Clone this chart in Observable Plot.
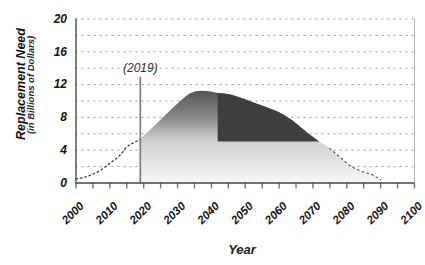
<!DOCTYPE html>
<html>
<head>
<meta charset="utf-8">
<script src="https://cdn.jsdelivr.net/npm/d3@7"></script>
<script src="https://cdn.jsdelivr.net/npm/@observablehq/plot@0.6"></script>
<style>
  html, body { margin: 0; padding: 0; background: #fff; }
  svg { display: block; }
</style>
</head>
<body>
<div id="chart"></div>
<script>
// ---- data ----
const years  = [2000, 2004, 2007, 2010, 2013, 2015, 2017, 2019, 2024, 2028, 2032, 2034, 2037, 2040, 2042, 2046, 2049, 2052, 2056, 2060, 2064, 2067, 2070, 2072, 2075, 2078, 2081, 2084, 2088, 2090];
const values = [0.5, 0.9, 1.5, 2.4, 3.4, 4.4, 4.9, 5.3, 7.2, 8.8, 10.3, 10.9, 11.2, 11.1, 10.9, 10.7, 10.3, 9.85, 9.25, 8.6, 7.6, 6.6, 5.6, 5.0, 4.2, 3.15, 2.1, 1.5, 0.9, 0.4];
const markerYear = 2019;
const markerLabel = "(2019)";
const darkStart = 2042;
const darkEnd = 2072;
const darkFloor = 5;
const yTicks = [0, 4, 8, 12, 16, 20];
const gridValues = [2, 4, 6, 8, 10, 12, 14, 16, 18, 20];
const xLabelYears = [2000, 2010, 2020, 2030, 2040, 2050, 2060, 2070, 2080, 2090, 2100];
const xTickYears = d3.range(2000, 2101, 5);
const yTitle = "Replacement Need";
const ySubTitle = "(in Billions of Dollars)";
const xTitle = "Year";

const data = years.map((y, i) => ({year: y, value: values[i]}));
const past = data.filter(d => d.year <= markerYear);
const future = data.filter(d => d.year >= markerYear);
const dark = data.filter(d => d.year >= darkStart && d.year <= darkEnd);
const tail = data.filter(d => d.year >= 2075);

const font = "'Liberation Sans', Arial, sans-serif";

const chart = Plot.plot({
  width: 425,
  height: 265,
  marginLeft: 75.5,
  marginRight: 11,
  marginTop: 18.5,
  marginBottom: 82.5,
  style: {fontFamily: font, background: "#fff", overflow: "visible"},
  x: {type: "linear", domain: [2000, 2100], axis: null},
  y: {type: "linear", domain: [0, 20], axis: null},
  marks: [
    Plot.ruleY(gridValues, {stroke: "#8a8a8a", strokeWidth: 0.9, strokeDasharray: "2,4"}),
    Plot.ruleX([2100], {y1: 0, y2: 20, stroke: "#b5b5b5", strokeWidth: 1}),
    Plot.areaY(future, {x: "year", y: "value", fill: "url(#needGrad)", curve: "monotone-x"}),
    Plot.areaY(dark, {x: "year", y1: darkFloor, y2: "value", fill: "#3e3e3e", curve: "monotone-x"}),
    Plot.line(past, {x: "year", y: "value", stroke: "#333", strokeWidth: 1.3, strokeDasharray: "1.5,3", curve: "monotone-x"}),
    Plot.line(tail, {x: "year", y: "value", stroke: "#444", strokeWidth: 1.1, strokeDasharray: "1.5,3.5", curve: "monotone-x"}),
    Plot.ruleX([markerYear], {y1: 0, y2: 12.9, stroke: "#777", strokeWidth: 1.6}),
    Plot.text([markerLabel], {x: markerYear, y: 14, text: d => d, fontSize: 12, fontStyle: "italic", fill: "#333", textAnchor: "middle"}),
    // axes
    Plot.ruleX([2000], {y1: 0, y2: 20, stroke: "#555", strokeWidth: 1.5}),
    Plot.ruleX(xTickYears, {x: d => d, y1: 0, y2: 0, insetBottom: -6, stroke: "#777", strokeWidth: 1.4}),
    Plot.ruleY([0], {x1: 2000, x2: 2100, stroke: "#444", strokeWidth: 1.6}),
    Plot.text(yTicks, {x: 2000, y: d => d, text: d => String(d), dx: -9, textAnchor: "end", fontSize: 12, fontWeight: "bold", fontStyle: "italic", fill: "#111"}),
    Plot.text(xLabelYears, {x: d => d, y: 0, text: d => String(d), dx: 6, dy: 21, rotate: -45, textAnchor: "end", fontSize: 11.5, fontWeight: "bold", fontStyle: "italic", fill: "#111"})
  ]
});

const svg = d3.select(chart);
const defs = svg.insert("defs", ":first-child");
const g = defs.append("linearGradient").attr("id", "needGrad").attr("x1", 0).attr("y1", 0).attr("x2", 0).attr("y2", 1);
g.append("stop").attr("offset", "0%").attr("stop-color", "#555");
g.append("stop").attr("offset", "30%").attr("stop-color", "#8a8a8a");
g.append("stop").attr("offset", "55%").attr("stop-color", "#d2d2d2");
g.append("stop").attr("offset", "100%").attr("stop-color", "#f7f7f7");

// titles
svg.append("text").attr("transform", "translate(25,84) rotate(-90)").attr("text-anchor", "middle")
  .attr("font-family", font).attr("font-size", 12.5).attr("font-weight", "bold").attr("font-style", "italic").attr("fill", "#111").text(yTitle);
svg.append("text").attr("transform", "translate(34,85) rotate(-90)").attr("text-anchor", "middle")
  .attr("font-family", font).attr("font-size", 9.5).attr("font-weight", "bold").attr("font-style", "italic").attr("fill", "#222").text(ySubTitle);
svg.append("text").attr("x", 242).attr("y", 254).attr("text-anchor", "middle")
  .attr("font-family", font).attr("font-size", 13).attr("font-weight", "bold").attr("font-style", "italic").attr("fill", "#222").text(xTitle);

document.getElementById("chart").append(chart);
</script>
</body>
</html>
